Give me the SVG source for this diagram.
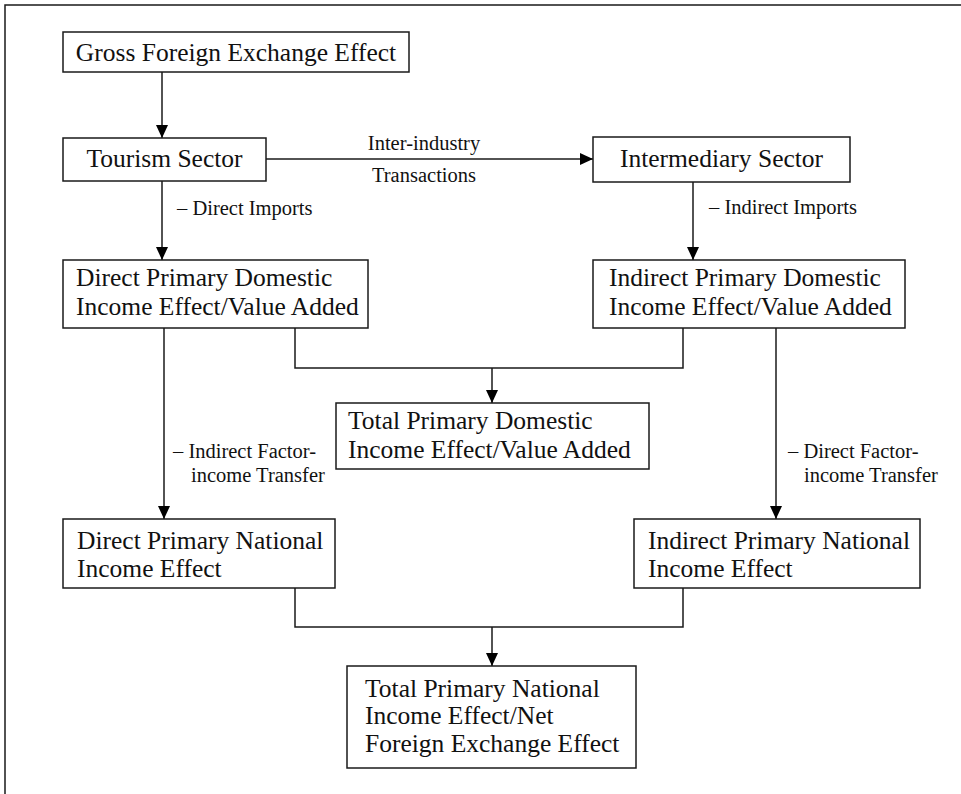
<svg xmlns="http://www.w3.org/2000/svg" width="961" height="794" viewBox="0 0 961 794">
<style>
  .box { fill: #ffffff; stroke: #1a1a1a; stroke-width: 1.5; }
  .t { font-family: "Liberation Serif", "Times New Roman", serif; font-size: 25.5px; fill: #111; }
  .c { text-anchor: middle; }
  .lbl { font-family: "Liberation Serif", "Times New Roman", serif; font-size: 20.5px; fill: #111; }
  .ln { fill: none; stroke: #1a1a1a; stroke-width: 1.5; }
</style>
<defs>
  <marker id="ah" markerUnits="userSpaceOnUse" markerWidth="14" markerHeight="14" refX="13" refY="6" orient="auto">
    <path d="M0,0 L13,6 L0,12 z" fill="#000"/>
  </marker>
</defs>
<rect x="0" y="0" width="961" height="794" fill="#ffffff"/>
<path d="M5,794 V5 H961" class="ln"/>

<g id="connectors">
  <line x1="162" y1="72" x2="162" y2="138" class="ln" marker-end="url(#ah)"/>
  <line x1="266" y1="159" x2="593" y2="159" class="ln" marker-end="url(#ah)"/>
  <line x1="162" y1="181" x2="162" y2="260" class="ln" marker-end="url(#ah)"/>
  <line x1="693" y1="182" x2="693" y2="260" class="ln" marker-end="url(#ah)"/>
  <path d="M295,328 V368 H683 V328" class="ln"/>
  <line x1="492" y1="368" x2="492" y2="403" class="ln" marker-end="url(#ah)"/>
  <line x1="164" y1="328" x2="164" y2="519" class="ln" marker-end="url(#ah)"/>
  <line x1="776" y1="328" x2="776" y2="519" class="ln" marker-end="url(#ah)"/>
  <path d="M295,588 V627 H683 V588" class="ln"/>
  <line x1="492" y1="627" x2="492" y2="666" class="ln" marker-end="url(#ah)"/>
  <text class="lbl c" x="424" y="150">Inter-industry</text>
  <text class="lbl c" x="424" y="182">Transactions</text>
  <text class="lbl" x="177" y="215">– Direct Imports</text>
  <text class="lbl" x="709" y="214">– Indirect Imports</text>
  <text class="lbl" x="173" y="458">– Indirect Factor-</text>
  <text class="lbl" x="191" y="482">income Transfer</text>
  <text class="lbl" x="788" y="458">– Direct Factor-</text>
  <text class="lbl" x="804" y="482">income Transfer</text>
</g>

<g id="gross">
  <rect class="box" x="63" y="32" width="346" height="40"/>
  <text class="t c" x="236" y="61">Gross Foreign Exchange Effect</text>
</g>
<g id="tourism">
  <rect class="box" x="63" y="138" width="203" height="43"/>
  <text class="t c" x="164.5" y="167">Tourism Sector</text>
</g>
<g id="intermediary">
  <rect class="box" x="593" y="137" width="257" height="45"/>
  <text class="t c" x="721.5" y="167">Intermediary Sector</text>
</g>
<g id="direct-domestic">
  <rect class="box" x="63" y="260" width="305" height="68"/>
  <text class="t" x="76" y="286">Direct Primary Domestic</text>
  <text class="t" x="76" y="315">Income Effect/Value Added</text>
</g>
<g id="indirect-domestic">
  <rect class="box" x="593" y="260" width="312" height="68"/>
  <text class="t" x="609" y="286">Indirect Primary Domestic</text>
  <text class="t" x="609" y="315">Income Effect/Value Added</text>
</g>
<g id="total-domestic">
  <rect class="box" x="336" y="403" width="313" height="66"/>
  <text class="t" x="348" y="429">Total Primary Domestic</text>
  <text class="t" x="348" y="458">Income Effect/Value Added</text>
</g>
<g id="direct-national">
  <rect class="box" x="63" y="519" width="272" height="69"/>
  <text class="t" x="77" y="549">Direct Primary National</text>
  <text class="t" x="77" y="577">Income Effect</text>
</g>
<g id="indirect-national">
  <rect class="box" x="634" y="519" width="286" height="69"/>
  <text class="t" x="648" y="549">Indirect Primary National</text>
  <text class="t" x="648" y="577">Income Effect</text>
</g>
<g id="total-national">
  <rect class="box" x="347" y="666" width="289" height="102"/>
  <text class="t" x="365" y="697">Total Primary National</text>
  <text class="t" x="365" y="724">Income Effect/Net</text>
  <text class="t" x="365" y="752">Foreign Exchange Effect</text>
</g>
</svg>
